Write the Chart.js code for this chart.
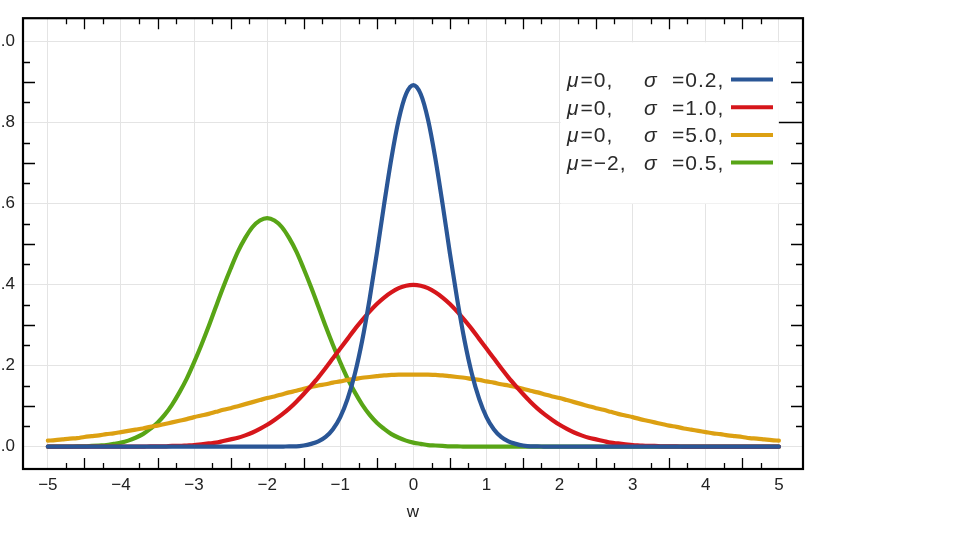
<!DOCTYPE html>
<html><head><meta charset="utf-8">
<script src="https://cdn.jsdelivr.net/npm/chart.js@4.4.1/dist/chart.umd.min.js"></script>
<style>
html,body{margin:0;padding:0;background:#fff;overflow:hidden;width:960px;height:540px}
#wrap{position:absolute;left:-40px;top:0;width:1000px;height:540px}
</style></head><body>
<div id="wrap"><canvas id="c" width="1000" height="540"></canvas></div>
<script>
// ---------- data ----------
const xValues = [-5.0,-4.9,-4.8,-4.7,-4.6,-4.5,-4.4,-4.3,-4.2,-4.1,-4.0,-3.9,-3.8,-3.7,-3.6,-3.5,-3.4,-3.3,-3.2,-3.1,
-3.0,-2.9,-2.8,-2.7,-2.6,-2.5,-2.4,-2.3,-2.2,-2.1,-2.0,-1.9,-1.8,-1.7,-1.6,-1.5,-1.4,-1.3,-1.2,-1.1,
-1.0,-0.9,-0.8,-0.7,-0.6,-0.5,-0.4,-0.3,-0.2,-0.1,0.0,0.1,0.2,0.3,0.4,0.5,0.6,0.7,0.8,0.9,
1.0,1.1,1.2,1.3,1.4,1.5,1.6,1.7,1.8,1.9,2.0,2.1,2.2,2.3,2.4,2.5,2.6,2.7,2.8,2.9,
3.0,3.1,3.2,3.3,3.4,3.5,3.6,3.7,3.8,3.9,4.0,4.1,4.2,4.3,4.4,4.5,4.6,4.7,4.8,4.9,5.0];

// mu=0, sigma^2=0.2
const blueValues = [0,0,0,0,0,0,0,0,0,0,0,0,0,0,0,0,0,0,0,0,0,0,0,0,0,0,0,0,0,0,0,0,0,
0.001,0.001,0.003,0.007,0.013,0.024,0.043,0.073,0.118,0.180,0.262,0.363,0.477,0.598,0.712,0.807,0.870,
0.892,
0.870,0.807,0.712,0.598,0.477,0.363,0.262,0.180,0.118,0.073,0.043,0.024,0.013,0.007,0.003,0.001,0.001,
0,0,0,0,0,0,0,0,0,0,0,0,0,0,0,0,0,0,0,0,0,0,0,0,0,0,0,0,0,0,0,0,0];

// mu=0, sigma^2=1.0
const redValues = [0,0,0,0,0,0,0,0,0,0,0,0,0,0,
0.001,0.001,0.001,0.002,0.002,0.003,0.004,0.006,0.008,0.010,0.014,0.018,0.022,0.028,0.035,0.044,
0.054,0.066,0.079,0.094,0.111,0.130,0.150,0.171,0.194,0.218,0.242,0.266,0.290,0.312,0.333,0.352,
0.368,0.381,0.391,0.397,
0.399,
0.397,0.391,0.381,0.368,0.352,0.333,0.312,0.290,0.266,0.242,0.218,0.194,0.171,0.150,0.130,0.111,
0.094,0.079,0.066,0.054,0.044,0.035,0.028,0.022,0.018,0.014,0.010,0.008,0.006,0.004,0.003,0.002,
0.002,0.001,0.001,0.001,
0,0,0,0,0,0,0,0,0,0,0,0,0,0];

// mu=0, sigma^2=5.0
const yellowValues = [0.015,0.016,0.018,0.020,0.021,0.024,0.026,0.028,0.031,0.033,0.036,0.039,0.042,0.045,
0.049,0.052,0.056,0.060,0.064,0.068,0.073,0.077,0.081,0.086,0.091,0.095,0.100,0.105,0.110,0.115,
0.120,0.124,0.129,0.134,0.138,0.143,0.147,0.151,0.154,0.158,0.161,0.165,0.167,0.170,0.172,0.174,
0.176,0.177,0.178,0.178,
0.178,
0.178,0.178,0.177,0.176,0.174,0.172,0.170,0.167,0.165,0.161,0.158,0.154,0.151,0.147,0.143,0.138,
0.134,0.129,0.124,0.120,0.115,0.110,0.105,0.100,0.095,0.091,0.086,0.081,0.077,0.073,0.068,0.064,
0.060,0.056,0.052,0.049,0.045,0.042,0.039,0.036,0.033,0.031,0.028,0.026,0.024,0.021,0.020,0.018,
0.016,0.015];

// mu=-2, sigma^2=0.5
const greenValues = [0,0,0,0,
0.001,0.001,0.002,0.003,0.004,0.007,0.010,0.015,0.022,0.031,0.044,0.059,0.079,0.104,0.134,0.168,
0.208,0.251,0.297,0.346,0.394,0.439,0.481,0.515,0.542,0.558,
0.564,
0.558,0.542,0.515,0.481,0.439,0.394,0.346,0.297,0.251,0.208,0.168,0.134,0.104,0.079,0.059,0.044,
0.031,0.022,0.015,0.010,0.007,0.004,0.003,0.002,0.001,0.001,
0,0,0,0,0,0,0,0,0,0,0,0,0,0,0,0,0,0,0,0,0,0,0,0,0,0,0,0,0,0,0,0,0,0,0,0,0,0,0,0,0,0,0,0];

const xTickValues = [-5,-4,-3,-2,-1,0,1,2,3,4,5];
const yTickValues = [0.0,0.2,0.4,0.6,0.8,1.0];
const legendMu = ['0','0','0','\u22122'];
const legendSigma = ['0.2','1.0','5.0','0.5'];
const seriesColors = ['#2A5696','#D6161B','#DCA012','#58A516'];
const axisTitle = 'w';

// ---------- chart ----------
const FONT = '"Liberation Sans", Arial, Helvetica, sans-serif';
const seriesValues = [blueValues, redValues, yellowValues, greenValues];

const decorPlugin = {
  id: 'decor',
  afterDatasetsDraw(chart) {
    const {ctx, chartArea: a, scales: {x, y}} = chart;
    ctx.save();
    // legend box (white, covering grid)
    const lx0 = x.getPixelForValue(2) + 1, lx1 = x.getPixelForValue(5);
    const ly0 = y.getPixelForValue(1.0) + 1, ly1 = y.getPixelForValue(0.6);
    ctx.fillStyle = '#fff';
    ctx.fillRect(lx0, ly0, lx1 - lx0, ly1 - ly0);

    // tick marks inside the frame
    ctx.strokeStyle = '#000';
    ctx.lineWidth = 1.3;
    ctx.beginPath();
    for (let k = 1; k <= 19; k++) {
      if (k % 4 === 0) continue;
      const v = k * 0.05;
      const py = Math.round(y.getPixelForValue(v)) + 0.5;
      const len = (k % 2 === 0) ? 12 : 7;
      ctx.moveTo(a.left, py); ctx.lineTo(a.left + len, py);
      ctx.moveTo(a.right, py); ctx.lineTo(a.right - len, py);
    }
    for (let k = -19; k <= 19; k++) {
      if (k % 4 === 0) continue;
      const v = k * 0.25;
      const px = Math.round(x.getPixelForValue(v)) + 0.5;
      const len = (Math.abs(k) % 2 === 0) ? 11 : 6;
      ctx.moveTo(px, a.bottom); ctx.lineTo(px, a.bottom - len);
      ctx.moveTo(px, a.top); ctx.lineTo(px, a.top + len);
    }
    // stray mark at 0.8 on the right
    const p8 = Math.round(y.getPixelForValue(0.8)) + 0.5;
    ctx.moveTo(lx1, p8); ctx.lineTo(a.right, p8);
    ctx.stroke();

    // frame
    ctx.lineWidth = 2.2;
    ctx.strokeRect(a.left, a.top, a.right - a.left, a.bottom - a.top);

    // legend rows
    const x0 = a.left + 544, xs = a.left + 621, xe = a.left + 649;
    const s0 = a.left + 708, s1 = a.left + 750;
    ctx.fillStyle = '#2a2a2a';
    ctx.textBaseline = 'alphabetic';
    if ('letterSpacing' in ctx) ctx.letterSpacing = '1px';
    for (let i = 0; i < legendMu.length; i++) {
      const by = 87 + i * 27.7;
      ctx.font = 'italic 21px ' + FONT;
      ctx.fillText('\u03BC', x0, by);
      const mw = ctx.measureText('\u03BC').width;
      ctx.fillText('\u03C3', xs, by);
      ctx.font = '21px ' + FONT;
      ctx.fillText('=' + legendMu[i] + ',', x0 + mw + 1, by);
      ctx.fillText('=' + legendSigma[i] + ',', xe, by);
      ctx.strokeStyle = seriesColors[i];
      ctx.lineWidth = 4;
      ctx.beginPath();
      ctx.moveTo(s0, by - 7.5); ctx.lineTo(s1, by - 7.5);
      ctx.stroke();
    }
    ctx.restore();
  }
};

new Chart(document.getElementById('c'), {
  type: 'line',
  data: {
    datasets: seriesValues.map((vals, i) => ({
      data: xValues.map((xv, j) => ({x: xv, y: vals[j]})),
      borderColor: seriesColors[i],
      borderWidth: 4.2,
      pointRadius: 0,
      fill: false,
      cubicInterpolationMode: 'monotone',
      borderCapStyle: 'round',
      order: i
    }))
  },
  options: {
    responsive: false,
    animation: false,
    devicePixelRatio: 1,
    layout: {padding: {left: 0, right: 157, top: 17, bottom: 0}},
    plugins: {legend: {display: false}, tooltip: {enabled: false}},
    scales: {
      x: {
        type: 'linear', min: -5.34, max: 5.33,
        afterBuildTicks: s => { s.ticks = xTickValues.map(v => ({value: v})); },
        afterFit: s => { s.height = 71; },
        grid: {color: '#e4e4e4', lineWidth: 1, drawTicks: false},
        border: {display: false},
        ticks: {
          padding: 6, autoSkip: false, maxRotation: 0, color: '#222',
          font: {family: FONT, size: 17},
          callback: v => (v < 0 ? '\u2212' + Math.abs(v) : String(v))
        },
        title: {display: true, text: axisTitle, color: '#222',
          font: {family: FONT, size: 17}, padding: {top: 0, bottom: 17}}
      },
      y: {
        type: 'linear', min: -0.055, max: 1.057,
        afterBuildTicks: s => { s.ticks = yTickValues.map(v => ({value: v})); },
        afterFit: s => { s.width = 63; },
        grid: {color: '#e4e4e4', lineWidth: 1, drawTicks: false},
        border: {display: false},
        ticks: {
          padding: 8, color: '#222',
          font: {family: FONT, size: 17},
          callback: v => Number(v).toFixed(1)
        }
      }
    }
  },
  plugins: [decorPlugin]
});
</script>
</body></html>
